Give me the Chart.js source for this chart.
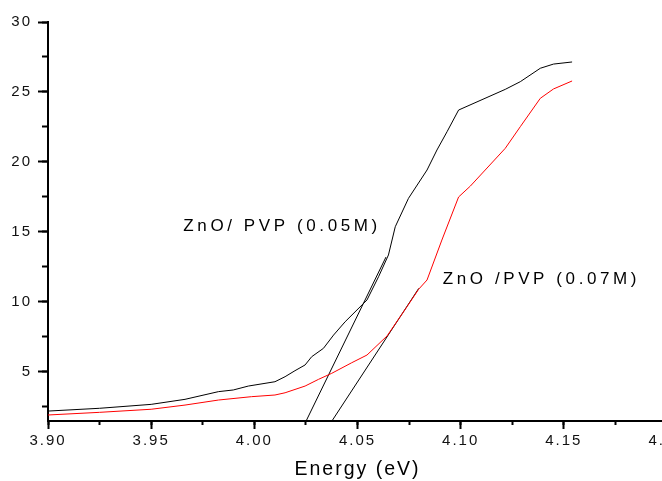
<!DOCTYPE html>
<html>
<head>
<meta charset="utf-8">
<script src="https://cdn.jsdelivr.net/npm/chart.js@4.4.1/dist/chart.umd.min.js"></script>
<style>
  html, body { margin: 0; padding: 0; background: #fff; overflow: hidden; }
  #wrap { width: 662px; height: 481px; overflow: hidden; }
</style>
</head>
<body>
<div id="wrap"><canvas id="chart" width="700" height="481"></canvas></div>
<script>
// ZnO/PVP 0.05M (black)
const energy05 = [3.900, 3.925, 3.950, 3.9664, 3.9826, 3.9898, 3.9971, 4.0100, 4.0149, 4.0197,
    4.0246, 4.0278, 4.0335, 4.0384, 4.0440, 4.0546, 4.0602, 4.0650, 4.0683, 4.0747,
    4.0837, 4.0885, 4.0934, 4.0990, 4.1216, 4.1289, 4.1386, 4.1450, 4.1540];
const alpha05 = [2.16, 2.36, 2.64, 3.00, 3.55, 3.67, 3.95, 4.26, 4.62, 5.05,
    5.46, 6.05, 6.65, 7.60, 8.55, 10.11, 11.77, 13.33, 15.35, 17.38,
    19.41, 20.84, 22.15, 23.70, 25.18, 25.73, 26.69, 26.99, 27.14];

// ZnO/PVP 0.07M (red)
const energy07 = [3.900, 3.925, 3.950, 3.9664, 3.9826, 3.9986, 4.0100, 4.0149, 4.0246, 4.0311,
    4.0375, 4.0472, 4.0546, 4.0643, 4.0740, 4.0796, 4.0837, 4.0909, 4.0990, 4.1047,
    4.1216, 4.1289, 4.1386, 4.1450, 4.1540];
const alpha07 = [1.88, 2.07, 2.29, 2.59, 2.95, 3.19, 3.31, 3.47, 3.95, 4.43,
    4.86, 5.62, 6.17, 7.53, 9.63, 10.87, 11.54, 14.40, 17.48, 18.26,
    20.96, 22.51, 24.54, 25.21, 25.78];

// straight-line fits to the absorption edges
const fit05X = [4.0251, 4.0638];
const fit05Y = [1.45, 13.18];
const fit07X = [4.0376, 4.0797];
const fit07Y = [1.45, 10.94];

const xMin = 3.90, xMax = 4.20;
const yMin = 1.45, yMax = 30;

const noteTexts = ['ZnO/ PVP (0.05M)', 'ZnO /PVP (0.07M)'];
const noteX = [3.9656, 4.0913];
const noteY = [15.35, 11.61];

const FONT = "'Liberation Sans', Arial, sans-serif";

function toPoints(xs, ys) {
    return xs.map((x, i) => ({ x: x, y: ys[i] }));
}

function lineSet(xs, ys, color) {
    return {
        data: toPoints(xs, ys),
        borderColor: color,
        borderWidth: 1,
        pointRadius: 0,
        tension: 0,
        fill: false
    };
}

const spacing = {
    id: 'spacing',
    beforeDraw(chart) { chart.ctx.letterSpacing = '2px'; },
    afterDatasetsDraw(chart) {
        const ctx = chart.ctx;
        const xs = chart.scales.x, ys = chart.scales.y;
        ctx.save();
        ctx.letterSpacing = '3.6px';
        ctx.font = '17px ' + FONT;
        ctx.fillStyle = '#000';
        ctx.textAlign = 'left';
        ctx.textBaseline = 'middle';
        noteTexts.forEach((t, i) => {
            ctx.fillText(t, xs.getPixelForValue(noteX[i]), ys.getPixelForValue(noteY[i]));
        });
        ctx.restore();
    }
};

new Chart(document.getElementById('chart'), {
    type: 'line',
    data: {
        datasets: [
            lineSet(energy05, alpha05, '#000000'),
            lineSet(energy07, alpha07, '#ff0000'),
            lineSet(fit05X, fit05Y, '#000000'),
            lineSet(fit07X, fit07Y, '#000000')
        ]
    },
    options: {
        responsive: false,
        animation: false,
        devicePixelRatio: 1,
        layout: { padding: { top: 22, right: 33, left: 0, bottom: 0 } },
        plugins: { legend: { display: false }, tooltip: { enabled: false } },
        scales: {
            x: {
                type: 'linear', min: xMin, max: xMax, weight: 1,
                afterFit(s) { s.height = 60; },
                border: { display: true, color: '#000', width: 2 },
                grid: { drawOnChartArea: false, drawTicks: true, tickLength: 8, tickWidth: 2, tickColor: '#000' },
                ticks: {
                    stepSize: 0.05, padding: 3, color: '#111', maxRotation: 0,
                    font: { family: FONT, size: 15 },
                    callback: v => v.toFixed(2)
                },
                title: {
                    display: true, text: 'Energy (eV)', color: '#000',
                    font: { family: FONT, size: 19.5 }, padding: { top: 0, bottom: 0 }
                }
            },
            xMinor: {
                type: 'linear', position: 'bottom', min: xMin, max: xMax, weight: 0,
                afterFit(s) { s.height = 0; },
                border: { display: false },
                grid: { drawOnChartArea: false, drawTicks: true, tickLength: 4, tickWidth: 2, tickColor: '#000' },
                ticks: { stepSize: 0.025, display: false }
            },
            y: {
                type: 'linear', min: yMin, max: yMax, weight: 1,
                afterFit(s) { s.width = 48; },
                border: { display: true, color: '#000', width: 2 },
                grid: { drawOnChartArea: false, drawTicks: true, tickLength: 10, tickWidth: 2, tickColor: '#000' },
                ticks: {
                    stepSize: 5, includeBounds: false, padding: 6, color: '#111',
                    font: { family: FONT, size: 15 }
                }
            },
            yMinor: {
                type: 'linear', position: 'left', min: yMin, max: yMax, weight: 0,
                afterFit(s) { s.width = 0; },
                border: { display: false },
                grid: { drawOnChartArea: false, drawTicks: true, tickLength: 6, tickWidth: 2, tickColor: '#000' },
                ticks: { stepSize: 2.5, includeBounds: false, display: false }
            }
        }
    },
    plugins: [spacing]
});
</script>
</body>
</html>
